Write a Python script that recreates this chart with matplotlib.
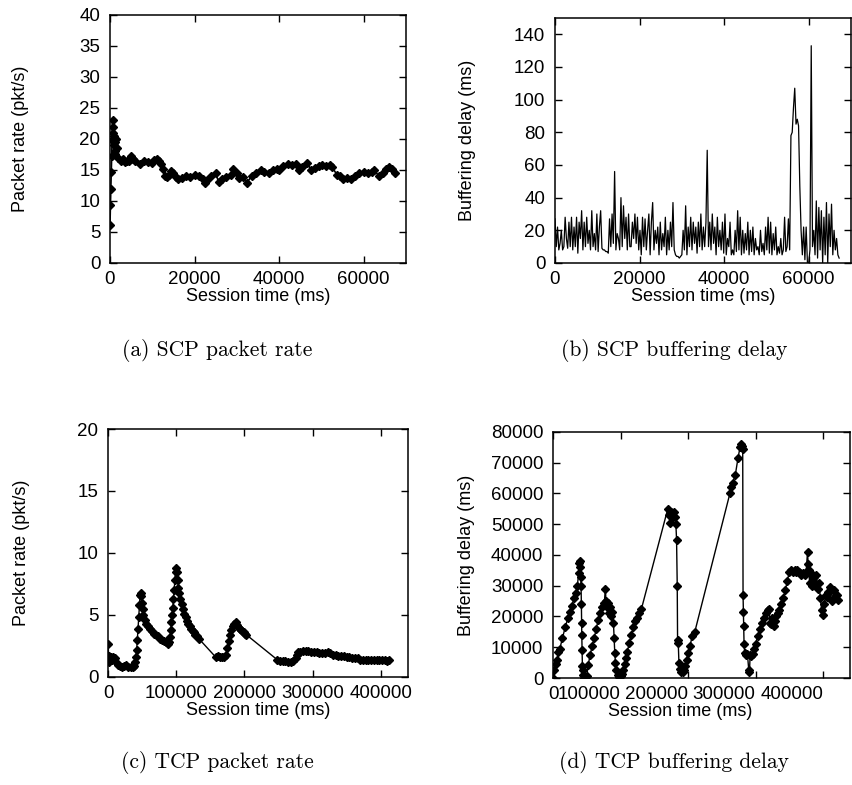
import numpy as np
import matplotlib
matplotlib.use("Agg")
import matplotlib.pyplot as plt

plt.rcParams['font.family'] = ['Liberation Sans', 'DejaVu Sans']

# (a) SCP packet rate: session time (ms) / packet rate (pkt/s)
RATE_A_T = [0, 100, 200, 300, 400, 500, 600, 700, 800, 900, 1000, 1100, 1200, 1300,
            1500, 1700, 2000, 2500, 3000, 3500, 4000, 4500, 5000, 5500, 6000, 7000,
            8000, 9000, 10000, 10500, 11000, 11500, 12000, 12500, 13000, 13500, 14000,
            14500, 15000, 15500, 16000, 17000, 18000, 19000, 20000, 21000, 22000, 22500,
            23000, 24000, 25000, 25700, 26500, 27500, 28500, 29200, 30000, 30500, 31500,
            32300, 33500, 34500, 35800, 36500, 37500, 38500, 39500, 40000, 41000, 42000,
            43000, 44000, 44700, 45500, 46700, 47500, 48500, 49500, 50200, 51000, 52000,
            52500, 53700, 54500, 55200, 56000, 57000, 58000, 59000, 60000, 61000, 62000,
            62500, 63600, 64500, 65200, 66100, 66800, 67400]
RATE_A = [6.2, 9.3, 11.9, 14.7, 17.2, 19.8, 23.0, 22.0, 21.0, 19.0, 20.5, 18.0, 19.5, 17.5,
          20.0, 18.5, 17.0, 16.5, 16.8, 16.3, 16.5, 16.4, 17.2, 16.8, 16.5, 16.0,
          16.5, 16.3, 16.2, 16.6, 16.8, 16.5, 16.0, 15.2, 14.0, 13.8, 14.2,
          14.8, 14.5, 13.8, 13.6, 13.7, 14.0, 13.8, 14.2, 14.0, 13.5, 12.9,
          13.4, 14.0, 14.5, 13.0, 13.6, 13.8, 14.2, 15.2, 14.5, 13.7, 13.8,
          12.9, 14.0, 14.5, 15.0, 14.7, 14.5, 15.0, 15.2, 15.0, 15.6, 16.0,
          15.8, 16.0, 15.0, 15.5, 16.2, 15.0, 15.3, 15.7, 15.8, 15.6, 15.8,
          15.5, 14.2, 14.0, 13.5, 13.7, 13.5, 14.0, 14.5, 14.7, 14.5, 14.7,
          15.0, 14.0, 14.5, 15.2, 15.5, 15.2, 14.5]

# (b) SCP buffering delay (ms), one reading every 300 ms of session time
DELAY_B_STEP_MS = 300
DELAY_B = [27, 10, 22, 8, 12, 20, 8, 10, 28, 15, 9, 25, 10, 28, 8, 22, 10, 28, 6, 25,
           15, 32, 8, 25, 10, 28, 12, 20, 8, 32, 10, 18, 8, 30, 7, 22, 32, 9, 8, 8,
           7, 7, 6, 27, 10, 30, 12, 56, 8, 18, 15, 8, 40, 10, 35, 15, 28, 8, 30, 10,
           10, 25, 15, 30, 12, 28, 8, 20, 5, 28, 10, 27, 8, 20, 30, 5, 25, 37, 8, 20,
           12, 22, 5, 25, 8, 18, 10, 28, 5, 20, 8, 25, 10, 37, 8, 5, 4, 4, 3, 4,
           5, 20, 8, 35, 5, 22, 10, 28, 8, 25, 12, 22, 6, 25, 10, 30, 8, 22, 10, 25,
           69, 10, 25, 8, 30, 12, 22, 5, 28, 10, 20, 8, 25, 6, 30, 5, 15, 10, 25, 5,
           8, 5, 20, 7, 32, 8, 28, 5, 20, 6, 18, 8, 25, 5, 20, 7, 22, 5, 15, 8,
           10, 5, 20, 7, 12, 5, 22, 8, 28, 6, 25, 5, 18, 8, 22, 5, 10, 6, 15, 5,
           8, 28, 7, 10, 27, 8, 78, 80, 95, 107, 85, 88, 84, 47, 20, 5, 22, 2, 22, 0,
           0, 8, 133, 10, 20, 5, 38, 3, 34, 8, 32, 0, 28, 5, 37, 0, 30, 10, 36, 5,
           20, 8, 15, 5, 3]

# (c) TCP packet rate
RATE_C_T = [0, 1000, 2000, 4000, 6000, 8000, 10000, 12000, 15000, 18000, 21000, 24000,
            27000, 30000, 33000, 36000, 38000, 40000, 41000, 42000, 43000, 44000, 45000,
            46000, 47000, 48000, 49000, 50000, 51000, 52000, 54000, 56000, 58000, 61000,
            64000, 67000, 70000, 73000, 76000, 79000, 82000, 85000, 88000, 90000, 91000,
            92000, 93000, 94000, 95000, 96000, 97000, 98000, 99000, 100000, 101000, 102000,
            103000, 104000, 106000, 108000, 110000, 112000, 114000, 116000, 118000, 120000,
            122000, 124000, 126000, 128000, 130000, 133000,
            158000, 161000, 164000, 167000, 170000, 173000, 175000, 177000, 179000, 181000,
            183000, 185000, 187000, 189000, 191000, 193000, 195000, 197000, 199000, 201000,
            203000,
            248000, 252000, 256000, 260000, 264000, 268000, 272000, 275000, 277000, 279000,
            282000, 286000, 290000, 294000, 298000, 302000, 306000, 310000, 314000, 318000,
            322000, 326000, 330000, 334000, 338000, 342000, 346000, 350000, 354000, 358000,
            362000, 366000, 370000, 374000, 378000, 382000, 386000, 390000, 394000, 398000,
            402000, 406000, 409000, 412000]
RATE_C = [2.7, 1.7, 1.2, 1.6, 1.4, 1.6, 1.5, 1.2, 1.0, 0.9, 0.8, 0.9,
          1.0, 0.8, 0.8, 0.8, 0.9, 1.2, 1.6, 2.2, 3.0, 3.9, 4.8,
          5.8, 6.6, 6.8, 6.5, 6.0, 5.5, 5.0, 4.6, 4.3, 4.1, 3.9,
          3.7, 3.5, 3.4, 3.3, 3.1, 3.0, 2.9, 2.8, 2.7, 2.8, 3.2,
          3.8, 4.4, 5.0, 5.6, 6.3, 7.0, 7.8, 8.5, 8.8, 8.5, 7.8,
          7.2, 6.8, 6.3, 5.9, 5.5, 5.1, 4.8, 4.5, 4.3, 4.1,
          3.9, 3.7, 3.6, 3.4, 3.3, 3.1,
          1.6, 1.7, 1.6, 1.6, 1.6, 1.8, 2.3, 2.9, 3.4, 3.8,
          4.1, 4.3, 4.4, 4.2, 4.0, 3.9, 3.8, 3.7, 3.6, 3.5,
          3.4,
          1.4, 1.3, 1.3, 1.3, 1.2, 1.2, 1.3, 1.5, 1.8, 2.0,
          2.0, 2.1, 2.1, 2.1, 2.0, 2.0, 2.0, 1.9, 1.9, 1.9,
          2.0, 1.9, 1.8, 1.8, 1.7, 1.7, 1.7, 1.6, 1.6, 1.5,
          1.5, 1.5, 1.4, 1.4, 1.4, 1.4, 1.4, 1.4, 1.35, 1.35,
          1.35, 1.35, 1.3, 1.35]

# (d) TCP buffering delay
DELAY_D_T = [0, 2000, 4000, 6000, 8000, 10000, 14000, 18000, 22000, 25000, 28000, 31000,
             34000, 36000, 38000, 39000, 40000, 40500, 41000, 41500, 42000, 42300, 42600,
             43000, 43500, 44000, 45000, 46000, 48000, 50000, 52000, 55000, 58000, 61000,
             64000, 67000, 70000, 73000, 76000, 77500, 78500, 80000, 81500, 83000, 84500,
             86000, 88000, 89500, 90500, 91500, 92500, 94000, 96000, 98000, 100000, 102000,
             104000, 106000, 108000, 110000, 113000, 116000, 119000, 122000, 125000, 128000,
             131000,
             170000, 172000, 173000, 175000, 177000, 179000, 181000, 182000, 183000, 184000,
             184500, 185500, 186500, 188000, 190000, 192000, 194000, 196000, 198000, 200000,
             203000, 206000, 210000,
             262000, 264000, 266000, 270000, 274000, 277000, 279000, 280500, 281000, 281500,
             282000, 282500, 283000, 284000, 286000, 288000, 290000, 291000, 292000, 294000,
             296000, 298000, 300000, 303000, 306000, 309000, 312000, 315000, 318000, 320000,
             321000, 323000, 325000, 327000, 329000, 331000, 333000, 335000, 338000, 341000,
             344000, 347000, 350000, 353000, 356000, 358000, 360000, 362000, 364000, 366000,
             368000, 370000, 373000, 375000, 377000, 378000, 379000, 380000, 382000, 384000,
             386000, 388000, 390000, 392000, 394000, 396000, 398000, 400000, 402000, 404000,
             406000, 408000, 410000, 412000, 414000, 416000, 418000, 420000, 422000]
DELAY_D = [0, 2500, 4500, 6000, 8500, 9500, 13000, 16500, 19500, 21500, 23500, 26000,
           27500, 30000, 34000, 37500, 38000, 36000, 33000, 30000, 24000, 18000, 14000,
           9000, 4000, 2500, 1000, 0, 0, 500, 4200, 7500, 10500, 13000,
           16000, 19000, 21000, 23000, 24500, 29000, 25000, 23000, 24500, 21000, 23000,
           20000, 21500, 18000, 13000, 8000, 5000, 2500, 1000, 300, 500, 1200,
           2500, 4500, 6500, 8500, 11500, 14000, 16500, 18500, 19500, 21000,
           22500,
           55000, 53000, 50500, 54000, 52500, 54000, 52500, 50000, 45000, 30000,
           12500, 11500, 5000, 3000, 2000, 1800, 2500, 4000, 6000, 8000,
           10500, 13500, 15000,
           60000, 62000, 63500, 66000, 71500, 75000, 76000, 75500, 74500, 27000,
           21500, 17000, 11000, 8000, 7500, 7800, 2500, 1800, 7500, 7000,
           7800, 9500, 11000, 13500, 16000, 18000, 19500, 21000, 22000, 22500,
           18000, 17500, 19500, 17000, 18500, 20000, 21000, 22000, 24000, 26000,
           28500, 31500, 34500, 35000, 34500, 35000, 34500, 35000, 34500, 34000,
           33500, 34000, 33500, 34500, 41000, 37000, 35000, 31000, 34000, 30000,
           33000, 31000, 33500, 29000, 31000, 26000, 22000, 20500, 24000, 27000,
           26500, 28000, 29500, 28500, 25000, 28500, 26000, 27000, 25500]

CAPTIONS = ["(a) SCP packet rate", "(b) SCP buffering delay",
            "(c) TCP packet rate", "(d) TCP buffering delay"]
YLABELS = ["Packet rate (pkt/s)", "Buffering delay (ms)",
           "Packet rate (pkt/s)", "Buffering delay (ms)"]


def style_axes(ax, xticks, yticks, xlim, ylim, ylabel):
    ax.set_xlim(*xlim)
    ax.set_ylim(*ylim)
    ax.set_xticks(xticks)
    ax.set_yticks(yticks)
    ax.tick_params(direction='in', top=True, right=True, length=5, width=1,
                   labelsize=13.5)
    ax.tick_params(axis='x', pad=6)
    ax.tick_params(axis='y', pad=7)
    for s in ax.spines.values():
        s.set_linewidth(1.1)
    ax.set_xlabel("Session time (ms)", fontsize=13, va='center')
    ax.xaxis.set_label_coords(0.5, -0.137)
    ax.set_ylabel(ylabel, fontsize=13, va='center')


def main():
    fig = plt.figure(figsize=(8.52, 7.85), dpi=100)

    # axes boxes in figure fractions
    ax_a = fig.add_axes([0.1291, 0.6650, 0.3474, 0.3159])
    ax_b = fig.add_axes([0.6514, 0.6650, 0.3474, 0.3121])
    ax_c = fig.add_axes([0.1268, 0.1376, 0.3521, 0.3159])
    ax_d = fig.add_axes([0.6491, 0.1363, 0.3486, 0.3134])

    # (a)
    ax_a.plot(RATE_A_T, RATE_A, color='black', lw=1.2, marker='D', ms=4.5)
    style_axes(ax_a, [0, 20000, 40000, 60000], np.arange(0, 41, 5),
               (0, 70000), (0, 40), YLABELS[0])
    ax_a.yaxis.set_label_coords(-0.304, 0.5)

    # (b)
    t_b = np.arange(len(DELAY_B)) * DELAY_B_STEP_MS
    ax_b.plot(t_b, DELAY_B, color='black', lw=0.9)
    style_axes(ax_b, [0, 20000, 40000, 60000], np.arange(0, 141, 20),
               (0, 70000), (0, 150), YLABELS[1])
    ax_b.yaxis.set_label_coords(-0.297, 0.5)

    # (c)
    ax_c.plot(RATE_C_T, RATE_C, color='black', lw=1.0, marker='D', ms=4.5)
    style_axes(ax_c, [0, 100000, 200000, 300000, 400000], np.arange(0, 21, 5),
               (0, 440000), (0, 20), YLABELS[2])
    ax_c.yaxis.set_label_coords(-0.287, 0.5)

    # (d)
    ax_d.plot(DELAY_D_T, DELAY_D, color='black', lw=1.0, marker='D', ms=4)
    style_axes(ax_d, [0, 100000, 200000, 300000, 400000], np.arange(0, 80001, 10000),
               (0, 440000), (0, 80000), YLABELS[3])
    ax_d.yaxis.set_label_coords(-0.29, 0.5)
    ax_d.xaxis.set_label_coords(0.428, -0.137)

    # in (d) the wide tick labels end at their tick, as in the original
    fig.canvas.draw()
    for i, lbl in enumerate(ax_d.get_xticklabels()):
        lbl.set_ha('center' if i == 0 else 'right')

    # sub-figure captions
    cap_pos = [(217, 351), (674, 351), (217, 763), (674, 763)]
    for (px, py), cap in zip(cap_pos, CAPTIONS):
        fig.text(px / 852, 1 - py / 785, cap, family='cmr10', fontsize=15.5,
                 ha='center', va='center')

    fig.savefig("out.png", dpi=100)
    plt.close(fig)


if __name__ == '__main__':
    main()
